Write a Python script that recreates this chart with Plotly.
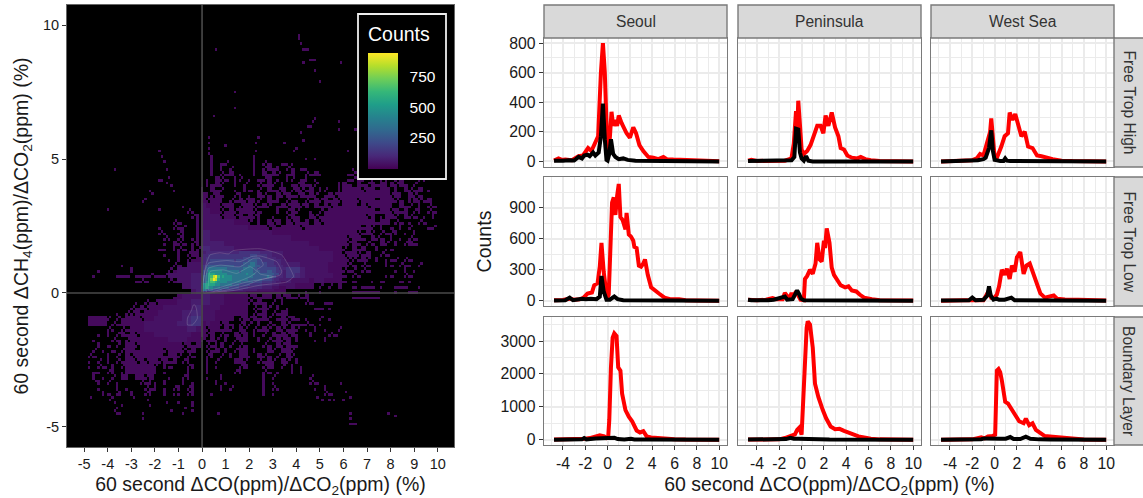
import numpy as np
import plotly.graph_objects as go

W, H = 1143, 498

# ---------- DATA: 2-D histogram, levels ----------
LEVELS = {'1': 10, 'a': 10, 'b': 10, 'c': 10, 'd': 10, '2': 32, '3': 62, '4': 90, '5': 130, '6': 190, '7': 260,
          '8': 350, '9': 450, 'A': 550, 'B': 650, 'C': 750, 'D': 850, 'E': 930}
# which of the four 0.1 bins inside a 0.2 cell are occupied
CELL_PARTS = {'a': [(0, 0), (.1, .1)], 'b': [(0, 0), (.1, 0)], 'c': [(0, 0), (0, .1)], 'd': [(0, 0)]}

# rows of 0.2x0.2 cells: (y, first x, pattern)
COARSE_UPPER_RIGHT = [
    (5.0, 0.0, "..c....... .c........ ..d.d....."),
    (4.8, 0.0, "..c.ba.... .c.ab..bd d........."),
    (4.6, 0.0, "..c.c.a... .c.a1bc.ab .bd....... ..d......."),
    (4.4, 0.0, "..c.ab1.d. .c.1b1a.b1 ..ab1d.... .bab1a...."),
    (4.2, 0.0, ".d.1ab.ca .d.ba1.d.c a.bc.d.... ..ba1d.a.c d.ab...da."),
    (4.0, 0.0, ".cb1a..c.a ..ab1a.c.b a1bda....c 1b.1ba1b1c 1a1b.a...."),
    (3.8, 0.0, "c.1ba..d.c b.a.1ba1.a 1ab1.ca..c 1111a11b11 .c.1ab1.d."),
    (3.6, 0.0, "1ca1b..ac. d.1ab.1a1b a1b1a.b1a1 1111111111 a1c.1ab.."),
    (3.4, 0.0, "1a11c.ab1a 1ca.1bc.ab d.ab1a1b1a 111a111b11 1ab.c1ab1."),
    (3.2, 0.0, "2111a11.a1 1ab1a.b1a1 1a1.1b1a1b 111b1a1111 c.1ba.c.ab"),
    (3.0, 0.0, "2211ab1a11 1ab...c.a1 a..d.ab111 1111111b11 a1b1.ac.ab"),
    (2.8, 0.0, "2222a11a1b 1ac..d..a1 b..1ab1111 11111a1.d1 1a.1ab.d.c"),
    (2.6, 0.0, "2222222111 a.c.1a1.1a 1b1.1a1111 1111111b11 .ab.d.ab.."),
    (2.4, 0.0, "2222222222 1111a1b111 1a11111111 1111b1a.c. b.c.a...ba"),
    (2.2, 0.0, "3322222222 2222211111 1111111111 111ab1a.ab ac.d.c...."),
    (2.0, 0.0, "3322222222 2222222221 1111111111 1a11b.1ab. c.d.ab...."),
    (1.8, 0.0, "3333322222 2222222222 2221111111 1a1b.ab.1a .c.a1b...."),
    (1.6, 0.0, "4433333222 2222222222 2222211111 a.1b1..c.d b........."),
    (1.4, 0.0, "4444433333 3322222222 2222222211 a11ab1..ab .........."),
    (1.2, 0.0, "5555544444 4444333322 2222222211 1aab1a.c.d ba.ab....."),
    (1.0, 0.0, "6666655555 5555544433 3222222111 1ab.ab...c b.abd.a..."),
    (0.8, 0.0, "6666655555 5555555555 5322222111 aba.ab.... .d.c.d...."),
    (0.6, 0.0, "6666655555 5555555555 4322222211 b.ab.....d b..ab....."),
    (0.4, 0.0, "6666655555 5555544432 2221221111 b.b...d.b. ..b.d....."),
    (0.2, 0.0, "6655554443 3322222222 1111.a.a.1 ..b.bbb.d. .bbb..d..."),
    (0.0, 0.0, "3322221111 111a.d.b.. ..d..d.... ..bbbbbb.. .d..bb...."),
]
COARSE_UPPER_LEFT = [
    (3.2, -0.8, "d"), (3.0, -0.6, "ad"), (2.8, -0.4, "ac"),
    (2.6, -2.0, "....ab...c"), (2.4, -2.0, ".d..aba..c"), (2.2, -2.0, ".ad..ac..c"),
    (2.0, -2.0, "..ad.ac.dc"), (1.8, -2.0, "..d.1ab.ac"), (1.6, -2.0, ".bd.cab.ca"),
    (1.4, -2.0, "..d..c.a1c"), (1.2, -2.0, "...d.c.ab1"), (1.0, -2.0, "....ab.222"),
    (0.8, -2.0, "...ab22222"), (0.6, -2.0, "..a2222233"), (0.4, -2.0, "...ab22233"),
    (0.2, -2.0, "......2233"), (0.0, -2.0, "........23"),
    (1.0, -3.4, "d"), (0.8, -4.4, "d"), (0.8, -3.0, "c"), (0.6, -4.6, "d"),
    (0.6, -3.6, "bbb.bbbabb"), (0.4, -2.8, "bab"),
]
COARSE_LOWER_LEFT = [
    (-0.2, -4.8, ".... ..... ..... ....b 12222"),
    (-0.4, -4.8, ".... ..... .d.ab a1111 22233"),
    (-0.6, -4.8, ".... ..... ab1a1 11222 22234"),
    (-0.8, -4.8, ".... ..d.a a1b11 12222 23344"),
    (-1.0, -4.8, "1111 a.ab1 11a11 22222 23455"),
    (-1.2, -4.8, "1111 .ab11 11122 22222 33455"),
    (-1.4, -4.8, ".... ad.ab 11122 22222 22332"),
    (-1.6, -4.8, "..d. c.a1b 1a111 22222 22211"),
    (-1.8, -4.8, ".d.. .ab.a 11111 11122 22111"),
    (-2.0, -4.8, "..c. b.a.1 1a111 11111 1a1b1"),
    (-2.2, -4.8, ".a.d .b.a1 1b111 11a11 1ab1."),
    (-2.4, -4.8, "ab.. c.a.1 a1111 11b11 a.ab."),
    (-2.6, -4.8, "d.a. c.ab1 1a1a1 1a1b1 .ac.."),
    (-2.8, -4.8, "d.ab .c.a1 11111 a.cb. ..ac."),
    (-3.0, -4.8, ".bd. ac.d1 11111 c.d.. ..c.."),
    (-3.2, -4.8, ".c.d .a.1c .11a1 ...d. .ac.."),
    (-3.4, -4.8, "..c. a.d.. ..abc d.c.. .c.d."),
    (-3.6, -4.8, "..d. ..c.d ...ab c.d.a c.ac."),
    (-3.8, -4.8, "...c b.a.. c..ac ..c.d d.ac."),
]
COARSE_LOWER_RIGHT = [
    (-0.2, 0.0, "3322211111 a1b11.1a1b ab1....... ..bbbbbb"),
    (-0.4, 0.0, "3322211111 ab1b.a.c.. ..ab..bb.. ........"),
    (-0.6, 0.0, "2222111111 .ab1a.c.d. ....bb.d.."),
    (-0.8, 0.0, "2221111111 .ab1.ab1c. ...."),
    (-1.0, 0.0, "2221111.a1 a1b1a.b1a1 b.d..a.d.."),
    (-1.2, 0.0, "1211a1b.ac a.c.ab.1ab bbab.d...."),
    (-1.4, 0.0, "1a11b1a.1a .ab1a.1ab1 a.d.c.d..a"),
    (-1.6, 0.0, "1a1.ab.1a1 .c.a.1b1a1 d..c...ab."),
    (-1.8, 0.0, "ab1a.c.a11 ..c.ab1a1. c...d.c..."),
    (-2.0, 0.0, ".abc1.a.ab ...ab.1a1b d........."),
    (-2.2, 0.0, ".ab1.c.a11 .c..1a.11a .........."),
    (-2.4, 0.0, ".ac.a.c.11 d.1ab.a.1a .........."),
    (-2.6, 0.0, ".c.a...11a ..ab1a.1a. c........."),
    (-2.8, 0.0, ".c.d....a1 ...a1c.a.c .d........"),
    (-3.0, 0.0, ".c.....ac. ...ab.d..c .c........"),
    (-3.2, 0.0, ".d..c..... ...c.a.... ...a......"),
    (-3.4, 0.0, "...c.d.... ...c.d.... ...ab....."),
    (-3.6, 0.0, "....c.a... ...c.ad... ....d.c..."),
    (-3.8, 0.0, "..d....... ...c.d.... ......ab.."),
]
# rows of 0.1x0.1 bins around the density maximum
FINE_CENTRE = [
    (1.5, 0.0, "3344444444 4444445555 5555544444 333332"),
    (1.4, 0.0, "3445555555 5555555555 5666555544 333332"),
    (1.3, 0.0, "3455555555 5555555566 6666655544 443332"),
    (1.2, 0.0, "3455666666 6666566666 7777665555 544433"),
    (1.1, 0.0, "3456666666 6666666677 7887666655 544433"),
    (1.0, 0.0, "4567777777 7777666777 8887766655 554443"),
    (0.9, 0.0, "4578888888 8777777788 8877666666 665444"),
    (0.8, 0.0, "4679999998 8888887888 8877766677 665543"),
    (0.7, 0.0, "568AAA9999 9888888889 8887777777 766443"),
    (0.6, 0.0, "578ABDEB9A 9998888888 8877777787 664443"),
    (0.5, 0.0, "578ACEDA99 9998888888 7777776666 544333"),
    (0.4, 0.0, "679ABBA999 9888888777 7766665555 443322"),
    (0.3, 0.0, "79AAAA9988 8887776666 6555554444 333222"),
    (0.2, 0.0, "89A9988877 7766665555 4444443333 222111"),
    (0.1, 0.0, "7877766665 5555444433 3333222222 211111"),
    (0.0, 0.0, "5544443333 3222222221 1111111111 111111"),
]
# isolated single bins
SPECK_X = [0.6, 4.1, 4.1, 4.2, 4.3, 4.4, 4.5, 4.3, 4.6, 4.7, 4.8, 4.8, 5.0, 5.9, 1.4, 1.4, 0.5, 4.8, 4.7, 4.6, 4.5,
           5.8, 5.8, 4.2, 6.5, 4.3, 2.4, 0.3, 0.3, 0.3, 0.3, 3.5, 2.3, 2.3, 1.0, 4.0, 3.9, 6.2,
           -1.8, -1.7, -1.6, -1.5, -1.4, -1.3, -1.8, -1.7, -1.5, -1.2, -3.7, -2.2, -2.1, -2.5, -2.4, -4.0, -1.8,
           -3.7, -3.6, -3.5, -3.4, -3.7, -3.6, -2.5, -2.5, -2.2, -1.5, -1.3, -0.8, -0.7, -0.4, -0.4, -0.4, -4.7,
           0.7, 5.4, 6.0, 6.3, 6.3, 6.3, 6.4, 6.5, 7.9, 8.2, 4.9, 5.1, 5.6, 5.9, 6.1, 6.3,
           -3.8, -3.5, -4.5, -3.9, -2.9, -2.3, -1.0]
SPECK_Y = [9.1, 9.6, 9.5, 9.3, 9.1, 9.1, 9.1, 8.6, 8.7, 8.7, 8.7, 8.3, 7.9, 8.6, 7.5, 6.9, 6.6, 6.5, 6.4, 6.2, 6.2,
           6.4, 6.1, 6.0, 6.1, 5.7, 5.8, 5.8, 5.6, 5.4, 5.2, 5.6, 5.6, 5.3, 5.5, 5.4, 5.3, 5.3,
           5.3, 5.1, 4.9, 4.6, 4.3, 4.0, 4.2, 4.2, 4.1, 3.8, 4.6, 3.8, 3.7, 3.4, 3.5, 3.1, 3.1,
           -4.1, -4.3, -4.5, -4.2, -4.4, -4.5, -4.5, -4.7, -4.2, -4.1, -4.4, -4.5, -4.3, -4.1, -4.2, -4.4, -3.9,
           -4.5, -4.0, -4.0, -4.5, -4.7, -4.9, -4.9, -4.9, -4.5, -4.6, -3.9, -4.0, -4.0, -3.4, -3.7, -3.9,
           -3.9, -3.8, -3.3, -4.0, -3.9, -4.0, -4.1]

# density contours
CONTOUR_1_X = [0, .08, .16, .34, .76, 1.12, 1.33, 2.46, 3.38, 3.66, 3.88, 3.59, 2.46, 1.33, .2, 0]
CONTOUR_1_Y = [0, .61, 1.04, 1.42, 1.5, 1.46, 1.58, 1.65, 1.42, 1.04, .61, .41, .29, .09, 0, 0]
CONTOUR_2_X = [.06, .13, .27, 1.05, 1.61, 2.11, 2.46, 3.17, 3.38, 3.31, 2.46, 1.9, 1.05, .06]
CONTOUR_2_Y = [.01, .86, 1.11, 1.21, 1.17, 1.36, 1.38, 1.17, .8, .67, .49, .3, .11, .01]
CONTOUR_3_X = [.2, .17, .27, .76, 1.61, 2.18, 2.46, 2.6, 2.32, 2.46, 3.03, 2.6, 1.9, 1.05, .2]
CONTOUR_3_Y = [.02, .61, .92, 1.04, .98, 1.29, 1.29, 1.04, .86, .71, .61, .52, .41, .2, .02]
CONTOUR_4_X = [.27, .34, .91, 1.47, 2.04, 2.32, 2.04, 1.33, .62, .27, .27]
CONTOUR_4_Y = [.36, .8, .86, .73, .98, .8, .61, .36, .17, .11, .36]
CONTOUR_5_X = [-.3, -.23, -.2, -.4, -.62, -.62, -.44, -.37, -.3]
CONTOUR_5_Y = [-.45, -.63, -.95, -1.19, -1.19, -.95, -.63, -.45, -.45]

COLUMNS = ["Seoul", "Peninsula", "West Sea"]
ROWS = ["Free Trop High", "Free Trop Low", "Boundary Layer"]

RED_HIGH_SEOUL = ([-4.8,-4.4,-4.1,-3.8,-3.2,-2.6,-2.2,-1.75,-1.45,-1.1,-.85,-.6,-.42,-.25,-.1,0,.15,.35,.5,.7,.85,1,1.25,1.7,2,2.3,2.55,2.85,3.2,3.65,4.1,4.55,5,5.3,5.9,7,8.3,10],
                  [5,20,10,12,8,35,40,90,70,120,170,600,800,600,100,30,100,335,240,280,240,310,260,190,160,230,190,110,70,30,25,15,30,15,12,8,3,1])
BLK_HIGH_SEOUL = ([-4.8,-4.4,-4,-3.5,-3,-2.6,-2.3,-2.1,-1.8,-1.6,-1.3,-1.1,-.8,-.6,-.42,-.25,-.1,0,.15,.3,.5,.7,1,1.4,1.8,2.5,3,10],
                  [5,8,5,8,6,30,20,40,45,35,60,40,60,170,390,150,10,5,50,150,50,30,15,20,10,5,5,0])
RED_HIGH_PEN = ([-4.8,-4.5,-4,-1.5,-1.1,-.9,-.7,-.5,-.4,-.3,-.15,0,.2,.5,.8,1.1,1.4,1.7,1.95,2.15,2.4,2.7,3,3.3,3.5,3.8,4.1,4.5,5,5.3,5.7,6.2,7,10],
                [5,10,3,5,15,25,120,340,180,410,250,80,50,70,110,170,240,240,190,310,240,330,230,170,90,80,40,25,20,30,15,8,3,0])
BLK_HIGH_PEN = ([-4.8,-1.2,-.9,-.65,-.5,-.3,-.15,0,.2,.4,.6,1,10],
                [2,2,8,30,220,215,60,20,5,35,5,0,0])
RED_HIGH_WEST = ([-4.8,-3,-2,-1.6,-1.3,-1,-.8,-.6,-.4,-.3,-.15,0,.1,.3,.6,.9,1.2,1.35,1.6,1.85,2.1,2.4,2.7,3,3.4,3.8,4.2,4.6,5.2,6,7,10],
                 [0,3,8,20,50,40,90,130,200,290,120,30,5,40,100,170,190,330,280,320,240,170,200,100,90,40,35,25,15,5,2,0])
BLK_HIGH_WEST = ([-4.8,-2.5,-2,-1.5,-1,-.8,-.5,-.3,-.15,0,.5,.8,.95,1.1,1.4,10],
                 [0,2,5,8,15,25,90,210,70,10,2,3,20,5,2,0])

RED_LOW_SEOUL = ([-4.8,-4,-3.4,-3,-2.5,-2.2,-1.8,-1.4,-1.2,-.9,-.7,-.55,-.35,-.2,-.05,.1,.25,.4,.55,.7,.85,1,1.15,1.35,1.6,1.7,1.9,2.1,2.3,2.4,2.6,2.8,3,3.2,3.35,3.6,3.9,4.2,4.6,5.1,5.6,6.4,7,8,10],
                 [5,8,20,10,15,25,70,80,150,170,330,560,280,100,20,60,450,950,1000,830,1010,1130,810,780,690,850,640,620,580,520,510,340,330,360,400,250,130,100,70,30,15,15,5,2,0])
BLK_LOW_SEOUL = ([-4.8,-3.8,-3.4,-3.1,-2.3,-2,-1.5,-1,-.7,-.55,-.35,-.1,.2,.6,.9,1.4,10],
                 [2,5,30,5,20,15,20,15,40,240,90,10,10,40,15,5,0])
RED_LOW_PEN = ([-4.8,-4,-3.2,-2.6,-2.3,-1.7,-1.5,-1.3,-1.1,-.9,-.75,-.5,-.3,-.1,.2,.3,.5,.75,1,1.25,1.4,1.6,1.8,2,2.1,2.25,2.5,2.7,2.9,3.2,3.5,3.9,4.2,4.5,4.9,5.2,5.6,6.3,7,10],
               [10,5,10,25,15,15,75,40,20,75,30,90,40,10,5,210,240,300,260,360,560,400,380,580,510,700,560,320,250,190,150,130,140,100,90,60,30,15,5,1])
BLK_LOW_PEN = ([-4.8,-4.5,-3,-2.5,-1.5,-1.3,-.8,-.4,-.2,-.05,.2,10],
               [10,5,5,10,40,10,15,100,60,20,5,0])
RED_LOW_WEST = ([-4.8,-3.4,-2.8,-1,-.6,-.5,-.3,0,.2,.4,.65,.9,1.1,1.35,1.55,1.8,2,2.3,2.6,2.85,3.15,3.5,3.8,4.1,4.5,5.3,5.6,6.3,7.5,10],
                [0,10,5,5,80,100,30,30,60,140,300,250,310,210,340,280,420,470,260,340,360,250,170,70,30,50,20,12,10,1])
BLK_LOW_WEST = ([-4.8,-3,-2.3,-2,-1.7,-1,-.65,-.5,-.35,-.1,.15,.4,.9,1.5,1.8,10],
                [2,3,5,30,5,10,50,140,50,10,20,10,10,30,5,0])

RED_BL_SEOUL = ([-4.8,-2.5,-2,-1.6,-1,-.7,-.3,-.1,.05,.15,.3,.45,.6,.8,.95,1.15,1.3,1.6,1.9,2.2,2.6,2.9,3.2,3.5,3.9,4.5,5.2,6,7,10],
                [5,10,30,50,100,130,100,50,60,600,2200,3100,3230,3150,2200,2100,1400,900,700,560,280,220,260,100,70,50,30,15,5,0])
BLK_BL_SEOUL = ([-4.8,-2.3,-2.1,-1.9,-1.1,-.6,.3,.6,.9,1.5,2.1,2.4,3.5,10],
                [2,10,50,10,40,40,30,60,20,5,25,5,3,0])
RED_BL_PEN = ([-4.8,-2,-1.5,-1,-.6,-.4,-.2,0,.05,.15,.3,.45,.55,.75,1,1.2,1.5,1.7,1.9,2.2,2.6,3,3.4,3.8,4.2,4.7,5.1,5.6,6.2,7,8,10],
              [5,10,50,120,160,300,370,150,600,1300,2400,3400,3600,3500,2800,1700,1300,1050,900,650,400,320,330,270,220,180,100,70,30,10,5,0])
BLK_BL_PEN = ([-4.8,-2,-1.4,-1,-.7,-.3,.5,1,1.4,2.5,10],
              [3,10,20,60,30,30,20,40,10,5,0])
RED_BL_WEST = ([-4.8,-2,-1.2,-.9,-.6,-.2,.05,.1,.2,.35,.5,.65,.8,.95,1.2,1.5,1.8,2.2,2.6,2.8,3.1,3.4,3.7,4,4.5,5.2,6,7,8,10],
               [0,10,70,40,100,110,150,1000,2100,2150,2050,1800,1500,1150,1100,950,750,560,500,640,440,500,300,230,110,90,60,30,5,0])
BLK_BL_WEST = ([-4.8,-2,-1.2,-.9,-.5,0,.5,1,1.4,1.7,2.3,2.8,3.2,4,5,10],
               [1,3,15,40,30,20,30,30,80,20,20,90,30,10,3,0])

RED_SERIES = [[RED_HIGH_SEOUL, RED_HIGH_PEN, RED_HIGH_WEST],
              [RED_LOW_SEOUL, RED_LOW_PEN, RED_LOW_WEST],
              [RED_BL_SEOUL, RED_BL_PEN, RED_BL_WEST]]
BLACK_SERIES = [[BLK_HIGH_SEOUL, BLK_HIGH_PEN, BLK_HIGH_WEST],
                [BLK_LOW_SEOUL, BLK_LOW_PEN, BLK_LOW_WEST],
                [BLK_BL_SEOUL, BLK_BL_PEN, BLK_BL_WEST]]
Y_TICKS = [[0, 200, 400, 600, 800], [0, 300, 600, 900], [0, 1000, 2000, 3000]]
Y_MINOR = [100, 150, 500]
Y_RANGES = [[-38, 834], [-51, 1197], [-161, 3730]]
X_TICKS_FACET = [-4, -2, 0, 2, 4, 6, 8, 10]
X_TICKS_MAIN = list(range(-5, 11))
Y_TICKS_MAIN = [-5, 0, 5, 10]
CBAR_TICKS = [250, 500, 750]

# ---------- build the 0.1 histogram grid ----------
xc = np.round(np.arange(-5, 10.01, 0.1), 1)
yc = np.round(np.arange(-6, 10.01, 0.1), 1)
Z = np.full((len(yc), len(xc)), np.nan)

def put(x, y, v):
    i, j = int(round((x + 5) * 10)), int(round((y + 6) * 10))
    if 0 <= i < len(xc) and 0 <= j < len(yc):
        Z[j, i] = v

FULL = [(0, 0), (.1, 0), (0, .1), (.1, .1)]
for table in (COARSE_UPPER_RIGHT, COARSE_UPPER_LEFT, COARSE_LOWER_LEFT, COARSE_LOWER_RIGHT):
    for y, x0, pat in table:
        for k, ch in enumerate(pat.replace(" ", "")):
            if ch != ".":
                for ox, oy in CELL_PARTS.get(ch, FULL):
                    put(x0 + 0.2 * k + ox, y + oy, LEVELS[ch])
for y, x0, pat in FINE_CENTRE:
    for k, ch in enumerate(pat.replace(" ", "")):
        if ch != ".":
            put(x0 + 0.1 * k, y, LEVELS[ch])
for x, y in zip(SPECK_X, SPECK_Y):
    put(x, y, LEVELS['1'])

# ---------- figure ----------
fig = go.Figure()

def dx(l, r):
    return [l / W, r / W]

def dy(t, b):
    return [1 - b / H, 1 - t / H]

BORDER = "#7a7a7a"
TXT = "#1a1a1a"
FONT = "Liberation Sans, Arial, sans-serif"
LEFT_X_RANGE = [-5.73, 10.69]
LEFT_Y_RANGE = [-5.75, 10.75]
TITLE_SIZE = 19.5
TICK_SIZE = 15.8
STRIP_SIZE = 15.6

fig.add_trace(go.Heatmap(
    x=xc, y=yc, z=Z, colorscale="Viridis", zmin=-15, zmax=950, zsmooth=False, hoverongaps=False,
    xaxis="x", yaxis="y", xgap=0, ygap=0,
    colorbar=dict(lenmode="pixels", len=116, thickness=30, thicknessmode="pixels", x=368 / W, xanchor="left",
                  y=1 - 53 / H, yanchor="top", xpad=0, ypad=0, outlinewidth=0, borderwidth=0,
                  tickmode="array", tickvals=CBAR_TICKS, ticktext=[str(v) for v in CBAR_TICKS],
                  ticks="outside", ticklen=9, tickcolor="black", tickwidth=1,
                  tickfont=dict(color="white", size=15.5, family=FONT))))

for cx, cy in ((CONTOUR_1_X, CONTOUR_1_Y), (CONTOUR_2_X, CONTOUR_2_Y), (CONTOUR_3_X, CONTOUR_3_Y),
               (CONTOUR_4_X, CONTOUR_4_Y), (CONTOUR_5_X, CONTOUR_5_Y)):
    fig.add_trace(go.Scatter(x=cx, y=cy, mode="lines",
                             line=dict(color="rgba(205,205,205,0.28)", width=0.8, shape="spline", smoothing=0.5),
                             showlegend=False, hoverinfo="skip", xaxis="x", yaxis="y"))

for xs, ys in (([0, 0], LEFT_Y_RANGE), (LEFT_X_RANGE, [0, 0])):
    fig.add_trace(go.Scatter(x=xs, y=ys, mode="lines", line=dict(color="#4a4a4a", width=1.6),
                             showlegend=False, hoverinfo="skip", xaxis="x", yaxis="y"))

layout = dict(
    width=W, height=H, autosize=False, margin=dict(l=0, r=0, t=0, b=0, autoexpand=False),
    paper_bgcolor="white", plot_bgcolor="white", showlegend=False,
    font=dict(family=FONT, color=TXT),
    xaxis=dict(domain=dx(67, 454), range=LEFT_X_RANGE, tickmode="array", tickvals=X_TICKS_MAIN,
               ticktext=[str(v) for v in X_TICKS_MAIN], ticks="outside", ticklen=4, tickcolor="#333",
               showgrid=False, zeroline=False, showline=True, linecolor="#666", mirror=True, linewidth=1,
               tickfont=dict(size=14.5, color=TXT),
               title=dict(text="60 second ΔCO(ppm)/ΔCO<sub>2</sub>(ppm) (%)", font=dict(size=TITLE_SIZE), standoff=6)),
    yaxis=dict(domain=dy(5, 447), range=LEFT_Y_RANGE, tickmode="array", tickvals=Y_TICKS_MAIN,
               ticktext=[str(v) for v in Y_TICKS_MAIN], ticks="outside", ticklen=4, tickcolor="#333",
               showgrid=False, zeroline=False, showline=True, linecolor="#666", mirror=True, linewidth=1,
               tickfont=dict(size=14.5, color=TXT),
               title=dict(text="60 second ΔCH<sub>4</sub>(ppm)/ΔCO<sub>2</sub>(ppm) (%)", font=dict(size=TITLE_SIZE), standoff=9)),
)
fig.update_layout(**layout)

PANEL_X = [(544, 727), (738, 921), (931, 1114)]
PANEL_Y = [(38, 167), (177, 306), (317, 445)]
FACET_X_RANGE = [-5.7, 10.7]
shapes, annos = [], []

# black panel behind the histogram
shapes.append(dict(type="rect", xref="paper", yref="paper", x0=67 / W, x1=454 / W, y0=1 - 447 / H, y1=1 - 5 / H,
                   fillcolor="black", line=dict(width=0), layer="below"))

idx = 2
for r in range(3):
    for c in range(3):
        xa, ya = f"xaxis{idx}", f"yaxis{idx}"
        xs, ys = RED_SERIES[r][c]
        fig.add_trace(go.Scatter(x=xs, y=ys, mode="lines", line=dict(color="#ff0000", width=4),
                                 xaxis=f"x{idx}", yaxis=f"y{idx}", showlegend=False, name="red"))
        xs, ys = BLACK_SERIES[r][c]
        fig.add_trace(go.Scatter(x=xs, y=ys, mode="lines", line=dict(color="#000000", width=4),
                                 xaxis=f"x{idx}", yaxis=f"y{idx}", showlegend=False, name="black"))
        xaxis = dict(domain=dx(*PANEL_X[c]), range=FACET_X_RANGE, anchor=f"y{idx}",
                     tickmode="array", tickvals=X_TICKS_FACET, ticktext=[str(v) for v in X_TICKS_FACET],
                     showticklabels=(r == 2), ticks="outside" if r == 2 else "", ticklen=4, tickcolor="#333",
                     tickfont=dict(size=TICK_SIZE, color=TXT),
                     showgrid=True, gridcolor="#ebebeb", gridwidth=1.6, zeroline=False,
                     minor=dict(tickmode="linear", tick0=-5, dtick=2, showgrid=True, gridcolor="#ebebeb", gridwidth=0.8, ticks=""),
                     showline=True, linecolor=BORDER, linewidth=1.4, mirror=True)
        yaxis = dict(domain=dy(*PANEL_Y[r]), range=Y_RANGES[r], anchor=f"x{idx}",
                     tickmode="array", tickvals=Y_TICKS[r], ticktext=[str(v) for v in Y_TICKS[r]],
                     showticklabels=(c == 0), ticks="outside" if c == 0 else "", ticklen=4, tickcolor="#333",
                     tickfont=dict(size=TICK_SIZE, color=TXT),
                     showgrid=True, gridcolor="#ebebeb", gridwidth=1.6, zeroline=False,
                     minor=dict(tickmode="linear", tick0=Y_MINOR[r], dtick=2 * Y_MINOR[r], showgrid=True, gridcolor="#ebebeb", gridwidth=0.8, ticks=""),
                     showline=True, linecolor=BORDER, linewidth=1.4, mirror=True)
        if r == 2 and c == 1:
            xaxis["title"] = dict(text="60 second ΔCO(ppm)/ΔCO<sub>2</sub>(ppm) (%)", font=dict(size=TITLE_SIZE), standoff=6)
        if r == 1 and c == 0:
            yaxis["title"] = dict(text="Counts", font=dict(size=TITLE_SIZE), standoff=12)
        fig.update_layout({xa: xaxis, ya: yaxis})
        idx += 1

# facet strips
for c, name in enumerate(COLUMNS):
    l, r_ = PANEL_X[c]
    shapes.append(dict(type="rect", xref="paper", yref="paper", x0=l / W, x1=r_ / W, y0=1 - 38 / H, y1=1 - 5 / H,
                       fillcolor="#d9d9d9", line=dict(color=BORDER, width=1.4), layer="above"))
    annos.append(dict(text=name, xref="paper", yref="paper", x=(l + r_) / 2 / W, y=1 - 22 / H, showarrow=False,
                      font=dict(size=STRIP_SIZE, color="#333"), xanchor="center", yanchor="middle"))
for r, name in enumerate(ROWS):
    t, b = PANEL_Y[r]
    shapes.append(dict(type="rect", xref="paper", yref="paper", x0=1114 / W, x1=1150 / W, y0=1 - b / H, y1=1 - t / H,
                       fillcolor="#d9d9d9", line=dict(color=BORDER, width=1.4), layer="above"))
    annos.append(dict(text=name, xref="paper", yref="paper", x=1129 / W, y=1 - (t + b) / 2 / H, showarrow=False,
                      textangle=90, font=dict(size=STRIP_SIZE, color="#333"), xanchor="center", yanchor="middle"))

# colour-legend box
shapes.append(dict(type="rect", xref="paper", yref="paper", x0=358 / W, x1=446 / W, y0=1 - 179 / H, y1=1 - 14 / H,
                   fillcolor="black", line=dict(color="#eeeeee", width=1.8), layer="above"))
annos.append(dict(text="Counts", xref="paper", yref="paper", x=366 / W, y=1 - 34 / H, showarrow=False,
                  font=dict(size=19.5, color="white"), xanchor="left", yanchor="middle"))
for v in CBAR_TICKS:
    ypx = 169 - (v + 15) / 965 * 116
    for x0, x1 in ((368, 374), (392, 398)):
        shapes.append(dict(type="line", xref="paper", yref="paper", x0=x0 / W, x1=x1 / W, y0=1 - ypx / H, y1=1 - ypx / H,
                           line=dict(color="#e8e8e8", width=1), layer="above"))

fig.update_layout(shapes=shapes, annotations=annos)
fig.write_html("out.html", config={"displayModeBar": False}, post_script="document.body.style.margin='0';")
